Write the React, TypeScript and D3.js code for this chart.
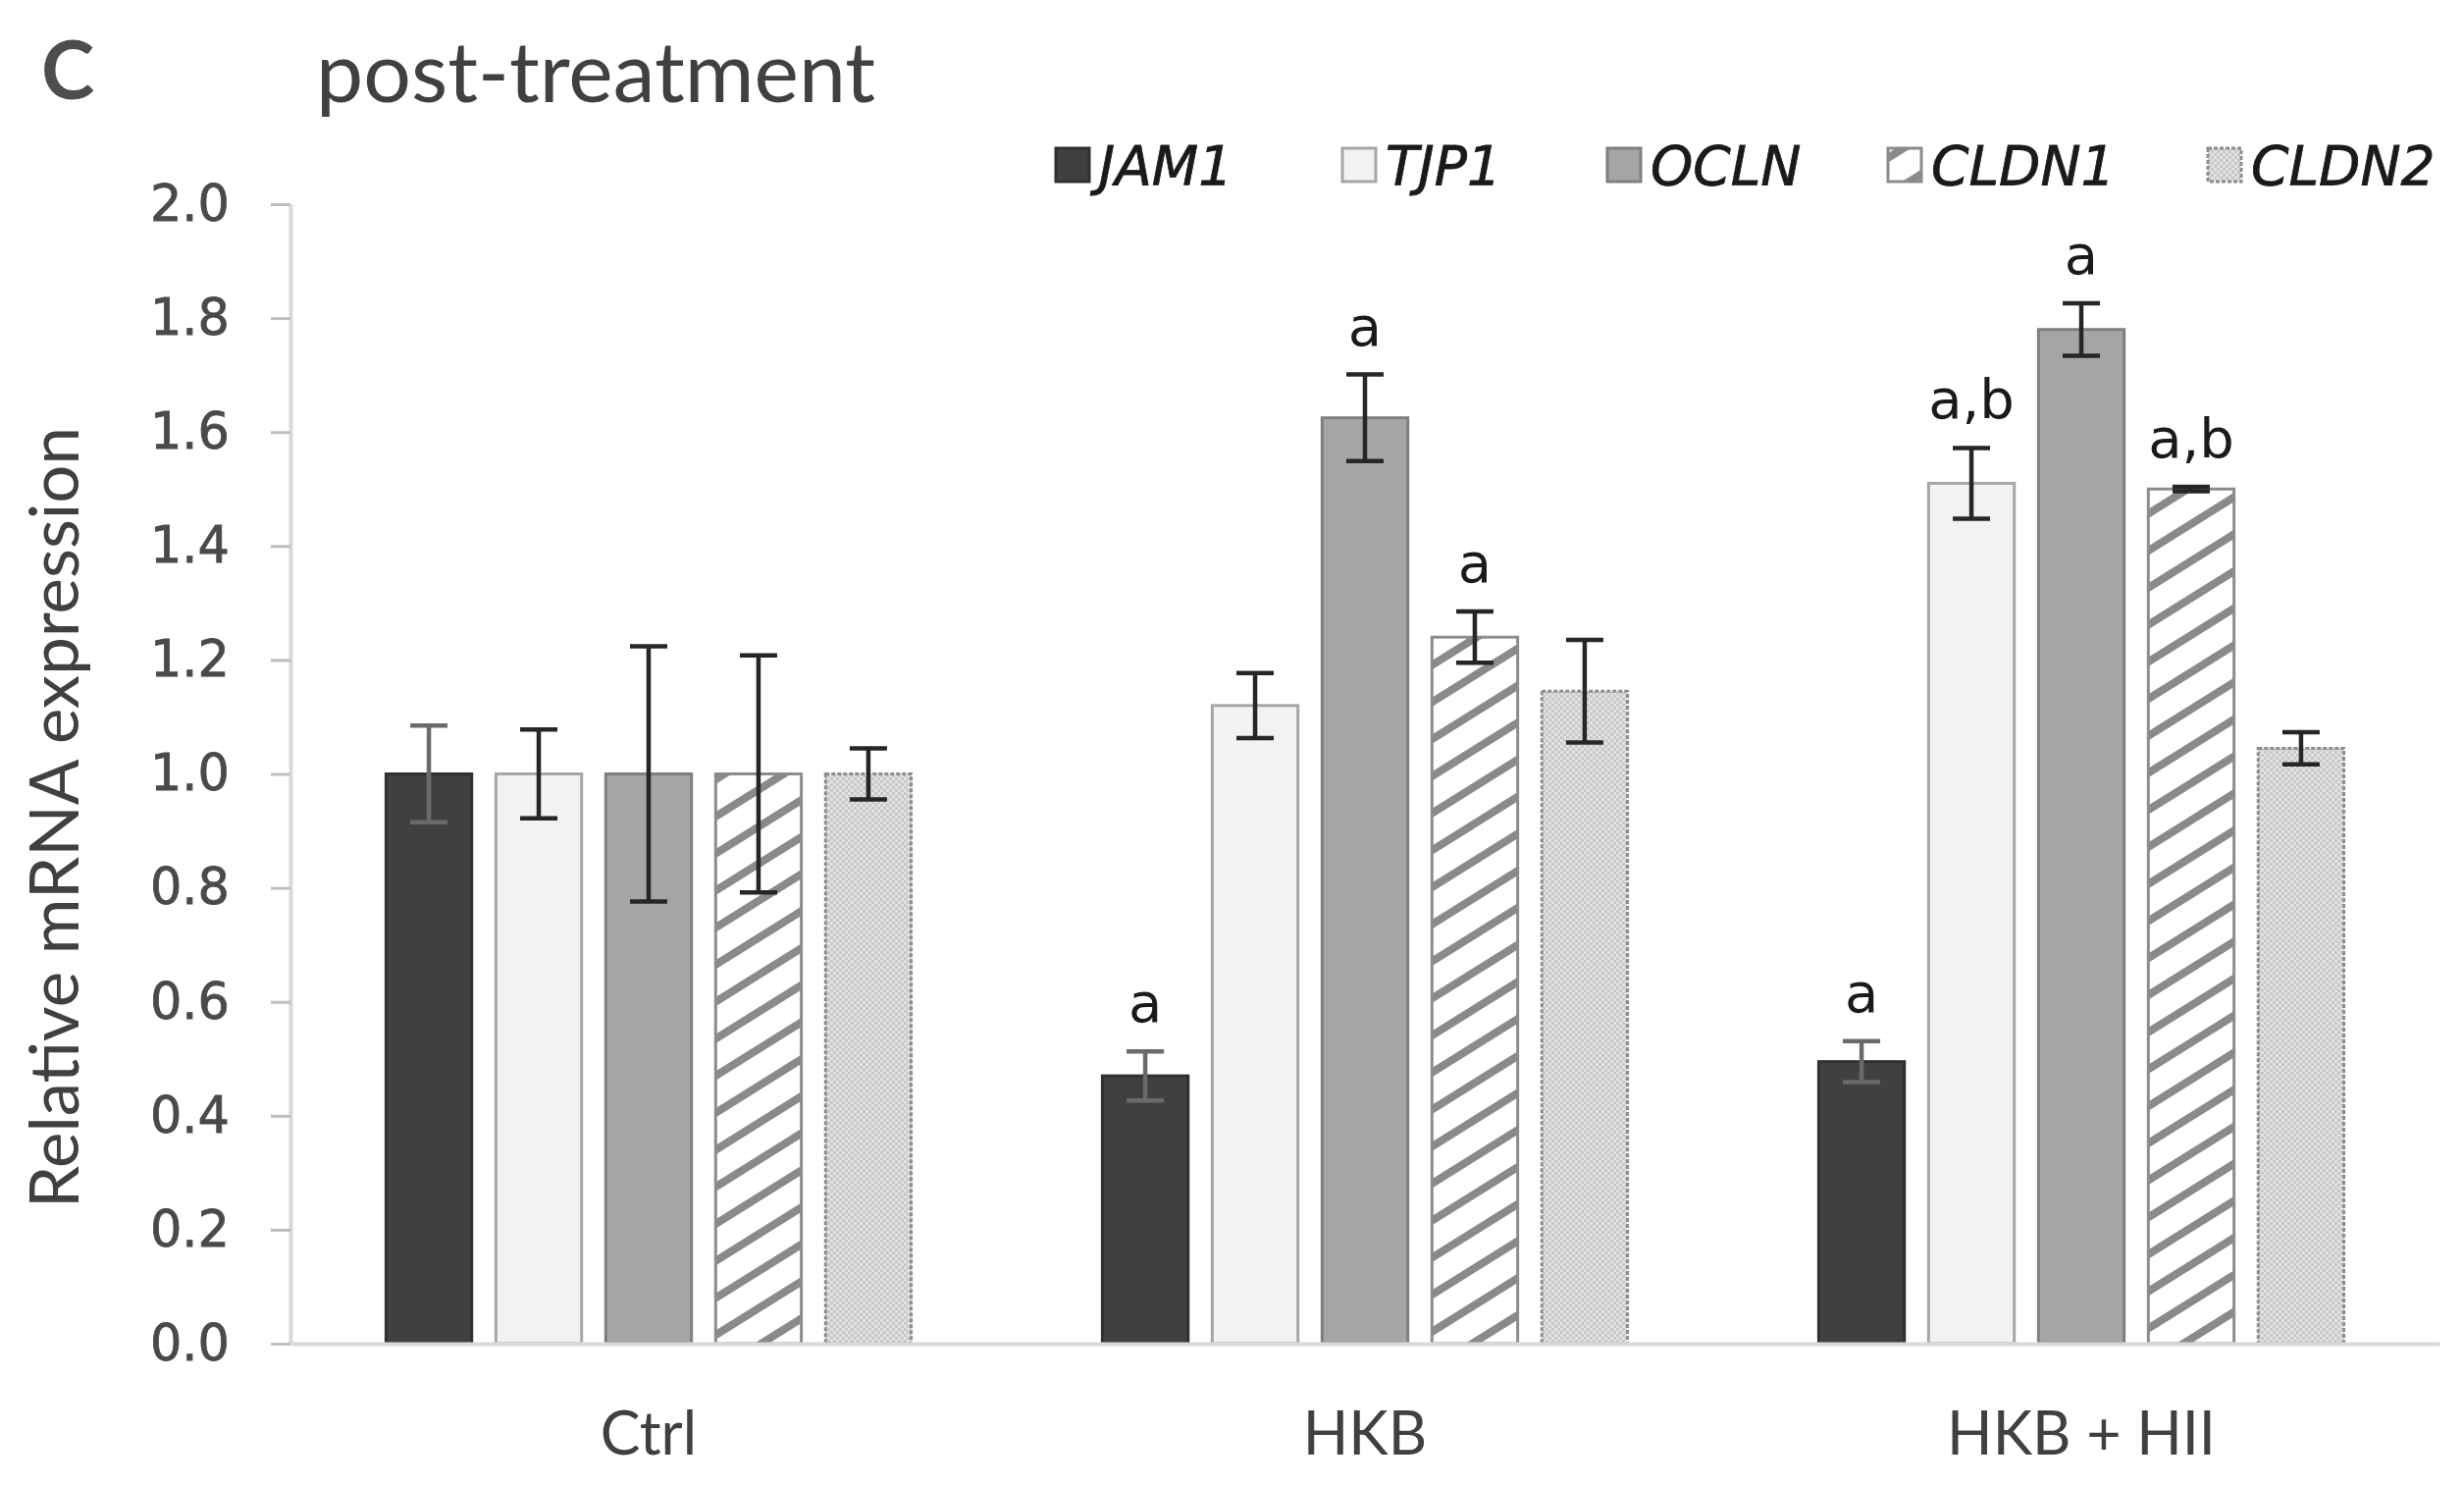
import { useEffect, useRef } from "react";
import * as d3 from "d3";

// Data
const groups = ["Ctrl", "HKB", "HKB + HII"];
const genes = ["JAM1", "TJP1", "OCLN", "CLDN1", "CLDN2"];

const ctrlValues = [1.0, 1.0, 1.0, 1.0, 1.0];
const ctrlErrors = [0.085, 0.078, 0.224, 0.208, 0.045];
const ctrlLetters = ["", "", "", "", ""];

const hkbValues = [0.47, 1.12, 1.625, 1.24, 1.145];
const hkbErrors = [0.043, 0.057, 0.076, 0.045, 0.09];
const hkbLetters = ["a", "", "a", "a", ""];

const hkbHiiValues = [0.495, 1.51, 1.78, 1.5, 1.045];
const hkbHiiErrors = [0.036, 0.062, 0.046, 0.004, 0.028];
const hkbHiiLetters = ["a", "a,b", "a", "a,b", ""];

const yTicks = [0, 0.2, 0.4, 0.6, 0.8, 1.0, 1.2, 1.4, 1.6, 1.8, 2.0];

// Styles per gene
const fills = ["#404040", "#f2f2f2", "#a5a5a5", "url(#stripes)", "url(#dots)"];
const strokes = ["#303030", "#a6a6a6", "#7f7f7f", "#8c8c8c", "#8c8c8c"];
const errColors = ["#6a6a6a", "#262626", "#262626", "#262626", "#262626"];
const legendX = [1076, 1368, 1638, 1924, 2250];

export default function App() {
    const svgRef = useRef<SVGSVGElement | null>(null);

    useEffect(() => {
        if (!svgRef.current) return;
        const root = d3.select(svgRef.current);
        root.selectAll("*").remove();

        const width = 2511;
        const height = 1513;
        const margin = { top: 208, right: 25, bottom: 144, left: 296 };
        const plotBottom = height - margin.bottom;
        const plotRight = width - margin.right;

        const rows = [
            { values: ctrlValues, errors: ctrlErrors, letters: ctrlLetters },
            { values: hkbValues, errors: hkbErrors, letters: hkbLetters },
            { values: hkbHiiValues, errors: hkbHiiErrors, letters: hkbHiiLetters },
        ];
        const data = groups.flatMap((g, gi) =>
            genes.map((gene, si) => ({
                group: g,
                gene,
                si,
                value: rows[gi].values[si],
                err: rows[gi].errors[si],
                letter: rows[gi].letters[si],
            }))
        );

        // Patterns
        const defs = root.append("defs");
        const stripes = defs
            .append("pattern")
            .attr("id", "stripes")
            .attr("patternUnits", "userSpaceOnUse")
            .attr("width", 40)
            .attr("height", 32)
            .attr("patternTransform", "rotate(-32)");
        stripes.append("rect").attr("width", 40).attr("height", 32).attr("fill", "#ffffff");
        stripes.append("rect").attr("width", 40).attr("height", 8).attr("fill", "#8a8a8a");

        const dots = defs
            .append("pattern")
            .attr("id", "dots")
            .attr("patternUnits", "userSpaceOnUse")
            .attr("width", 6)
            .attr("height", 6);
        dots.append("rect").attr("width", 6).attr("height", 6).attr("fill", "#e2e2e2");
        dots.append("rect").attr("width", 3).attr("height", 3).attr("fill", "#c8c8c8");
        dots.append("rect").attr("x", 3).attr("y", 3).attr("width", 3).attr("height", 3).attr("fill", "#c8c8c8");

        // Scales
        const y = d3.scaleLinear().domain([0, 2]).range([plotBottom, margin.top]);
        const x0 = d3.scaleBand().domain(groups).range([margin.left, plotRight]);
        const x1 = d3
            .scaleBand()
            .domain(genes)
            .range([0, x0.bandwidth()])
            .paddingInner(0.22)
            .paddingOuter(0.87);

        // Y axis
        const yAxis = root
            .append("g")
            .attr("transform", `translate(${margin.left},0)`)
            .call(
                d3
                    .axisLeft(y)
                    .tickValues(yTicks)
                    .tickFormat(d3.format(".1f"))
                    .tickSize(20)
                    .tickSizeOuter(0)
                    .tickPadding(42)
            );
        yAxis.select(".domain").attr("stroke", "#d9d9d9").attr("stroke-width", 4);
        yAxis.selectAll(".tick line").attr("stroke", "#bfbfbf").attr("stroke-width", 3);
        yAxis
            .selectAll(".tick text")
            .attr("font-family", "DejaVu Sans")
            .attr("font-size", 51)
            .attr("fill", "#4a4a4a")
            .attr("stroke", "#4a4a4a")
            .attr("stroke-width", 0.8);

        // Bars
        root.append("g")
            .selectAll("rect")
            .data(data)
            .enter()
            .append("rect")
            .attr("x", (d) => (x0(d.group) || 0) + (x1(d.gene) || 0))
            .attr("y", (d) => y(d.value))
            .attr("width", x1.bandwidth())
            .attr("height", (d) => y(0) - y(d.value))
            .attr("fill", (d) => fills[d.si])
            .attr("stroke", (d) => strokes[d.si])
            .attr("stroke-width", 3)
            .attr("stroke-dasharray", (d) => (d.si === 4 ? "4 2" : null));

        // X axis
        const xAxis = root
            .append("g")
            .attr("transform", `translate(0,${plotBottom})`)
            .call(d3.axisBottom(x0).tickSize(0).tickSizeOuter(0).tickPadding(70));
        xAxis.select(".domain").attr("stroke", "#d9d9d9").attr("stroke-width", 4);
        xAxis
            .selectAll(".tick text")
            .attr("font-family", "Lato")
            .attr("font-size", 61)
            .attr("fill", "#404040");

        // Error bars
        const cap = 19;
        const eg = root.append("g");
        const cx = (d: any) => (x0(d.group) || 0) + (x1(d.gene) || 0) + x1.bandwidth() / 2;
        data.forEach((d) => {
            const c = cx(d);
            const top = y(d.value + d.err);
            const bot = y(d.value - d.err);
            const col = errColors[d.si];
            eg.append("line").attr("x1", c).attr("x2", c).attr("y1", top).attr("y2", bot)
                .attr("stroke", col).attr("stroke-width", 4.5);
            eg.append("line").attr("x1", c - cap).attr("x2", c + cap).attr("y1", top).attr("y2", top)
                .attr("stroke", col).attr("stroke-width", 4.5);
            eg.append("line").attr("x1", c - cap).attr("x2", c + cap).attr("y1", bot).attr("y2", bot)
                .attr("stroke", col).attr("stroke-width", 4.5);
        });

        // Significance letters
        root.append("g")
            .selectAll("text")
            .data(data.filter((d) => d.letter))
            .enter()
            .append("text")
            .attr("x", cx)
            .attr("y", (d) => y(d.value + d.err) - 30)
            .attr("text-anchor", "middle")
            .attr("font-family", "DejaVu Sans")
            .attr("font-size", 56)
            .attr("fill", "#1a1a1a")
            .text((d) => d.letter);

        // Legend
        const lg = root.append("g");
        genes.forEach((g, i) => {
            lg.append("rect")
                .attr("x", legendX[i])
                .attr("y", 151)
                .attr("width", 34)
                .attr("height", 34)
                .attr("fill", fills[i])
                .attr("stroke", strokes[i])
                .attr("stroke-width", 3)
                .attr("stroke-dasharray", i === 4 ? "4 2" : null);
            lg.append("text")
                .attr("x", legendX[i] + 44)
                .attr("y", 188)
                .attr("font-family", "DejaVu Sans")
                .attr("font-style", "italic")
                .attr("font-size", 55)
                .attr("fill", "#1a1a1a")
                .attr("stroke", "#1a1a1a")
                .attr("stroke-width", 0.8)
                .text(g);
        });

        // Titles
        root.append("text")
            .attr("x", 42)
            .attr("y", 101)
            .attr("font-family", "Lato")
            .attr("font-weight", "bold")
            .attr("font-size", 82)
            .attr("fill", "#4d4d4d")
            .text("C");
        root.append("text")
            .attr("x", 322)
            .attr("y", 104)
            .attr("font-family", "Lato")
            .attr("font-size", 86)
            .attr("fill", "#404040")
            .text("post-treatment");
        root.append("text")
            .attr("transform", "translate(80,833) rotate(-90)")
            .attr("text-anchor", "middle")
            .attr("font-family", "Lato")
            .attr("font-size", 69)
            .attr("fill", "#404040")
            .text("Relative mRNA expression");
    }, []);

    return (
        <svg
            ref={svgRef}
            width={2511}
            height={1513}
            style={{ position: "absolute", left: 0, top: 0, background: "#ffffff" }}
        />
    );
}
